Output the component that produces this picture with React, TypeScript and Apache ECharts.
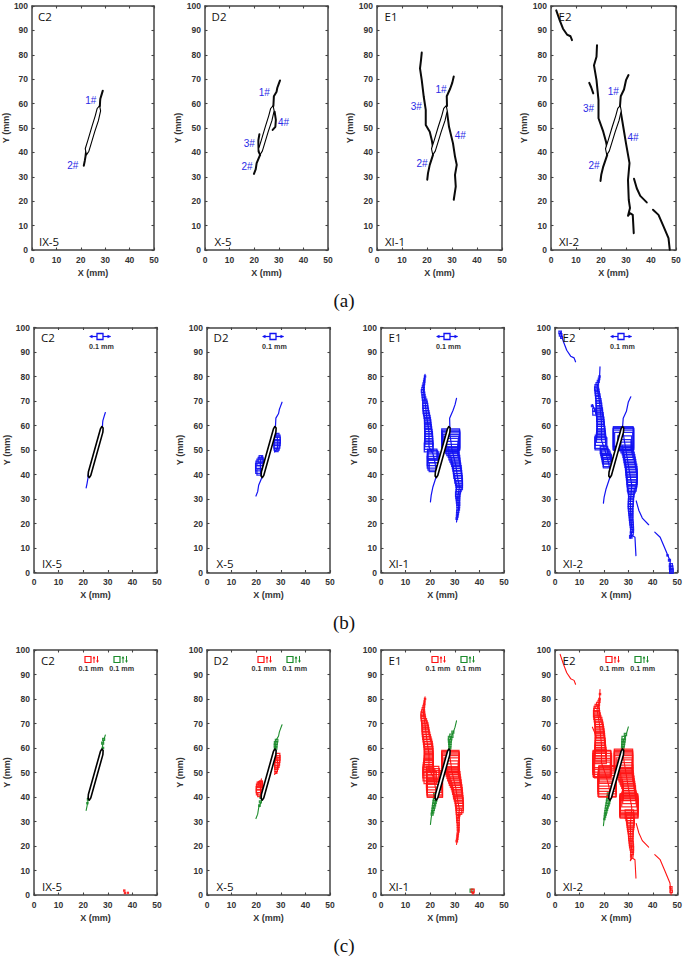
import React, { useEffect, useRef } from "react";
import * as echarts from "echarts";

type P = number[];
const xTicks = [0, 50];
const yTicks = [0, 100];

const notchLens: P[] = [[22.3,39],[21.8,41.5],[22.9,45],[24.5,50.5],[25.9,55],[26.7,58],[27.7,59.2],[28.1,57],[27.2,53],[25.7,48.5],[24.2,43.5],[23.3,40.5],[22.3,39]];
const notchCapsule: P[] = [[22,39.4],[22.1,41],[27,58.6],[27.6,59.6],[28.1,59],[28,57.3],[23.1,39.7],[22.5,38.7]];

// crack traces (mm)
const c2_1: P[] = [[27.8,59],[27.9,61],[28,62],[28.6,64],[29,65.3]];
const c2_2: P[] = [[22.3,41.7],[21.9,38.3],[21.6,36.5],[21.2,34.5]];
const d2_1: P[] = [[27.8,59],[28,63],[29.1,64.9],[29.4,66.5],[29.8,67.6],[30.5,69.5]];
const d2_2: P[] = [[22.4,39],[21,35.6],[20.6,33],[19.9,31.2]];
const d2_3: P[] = [[22.1,47.4],[21.7,45],[21.7,43.7],[21.8,40.3],[22.4,39]];
const d2_4: P[] = [[28.3,56.7],[28.8,53.3],[28.6,50.5],[27.5,49.2]];
const e1_1: P[] = [[28,59],[27.9,63],[29.3,66.2],[30.1,68.5],[30.7,71.1]];
const e1_2: P[] = [[22.4,39],[21.1,34.9],[20.4,31.5],[20.1,28.8]];
const e1_3: P[] = [[17.9,80.9],[17.6,77.8],[17.2,74.4],[17.9,69.6],[18.7,62.8],[19.5,57.4],[19.5,51.2],[21.1,48.5],[21.9,45.1],[22.4,42]];
const e1_4: P[] = [[28,56.7],[28.8,50.5],[30.4,43.7],[31.2,38.3],[31.9,34.9],[31.2,30.8],[31.5,26],[30.7,20.6]];
const e2_1: P[] = [[27.6,59],[27.9,63],[29.2,65.8],[30,69.6],[31,71.7]];
const e2_1short: P[] = [[27.6,59],[27.9,63],[29.2,65.8],[30,68.6]];
const e2_2: P[] = [[22.5,39],[20.9,34.2],[20.1,30.8],[19.8,28.3]];
const e2_3: P[] = [[18.4,83.9],[18.2,79.2],[17.2,75.7],[18.2,69.6],[19,61.4],[19,54],[20.9,48.5],[22,44.4],[22.5,41.7]];
const e2_4: P[] = [[27.9,56.7],[29,49.9],[30,43.7],[31.4,35.6],[30.8,28.7],[31.1,20.6],[31.6,17.2],[30.8,14],[31.6,15.1],[32.7,14.4],[33.1,6.9]];
const e2_top: P[] = [[2.1,98.2],[3.5,94.1],[4.8,90.7],[6.4,88.3],[7.8,87.6],[8.4,86]];
const e2_branch: P[] = [[15.3,68.5],[16.1,66.6],[16.9,64.2]];
const e2_right: P[] = [[33.2,29.2],[34.3,25.3],[35.7,22.2],[38.3,19.5]];
const e2_low: P[] = [[40.8,16.5],[43,14.4],[45,9.7],[47,4.9],[47.5,0.1]];

// [x, y, side] squares (mm)
const d2bSq: P[] = [[21.9,47,1.4],[21.8,46,2],[21.6,45,2.6],[21.4,44,3],[21.3,43,3.1],[21.3,42,3],[21.5,41,2.4],[28.5,56,1.5],[28.6,55,2.2],[28.6,54,2.4],[28.5,53,2.5],[28.4,52,2.4],[28.3,51,2.1],[28.2,50,1.4]];
const e1bSq: P[] = [[17.9,80,.5],[17.7,79,.5],[17.6,78,.6],[17.4,77,.7],[17.2,76,.8],[17.1,75,1],[17,74,1.2],[17.2,73,1.2],[17.3,72,1.2],[17.5,71,1.4],[17.8,70,1.6],[17.9,69,1.8],[18,68,2],[18.1,67,2],[18.2,66,2.2],[18.4,65,2.2],[18.6,64,2.2],[18.8,63,2.3],[18.9,62,2.4],[19,61,2.5],[19,60,2.6],[19.1,59,2.7],[19.2,58,2.8],[19.3,57,2.9],[19.4,56,3],[19.4,55,3.1],[19.4,54,3.2],[19.4,53,3.2],[19.4,52,3.4],[19.4,51,3.6],
  [20.8,48.5,3.8],[21,47.8,4],[21.3,47,4.4],[21.2,46,4.8],[21.2,45,4.8],[21.3,44,4.4],[21.4,43,3.6],
  [28.3,55,7.2],[28.4,54.5,7.2],[28.4,54,7.2],[28.5,53.5,7],[28.5,53,6.6],[28.6,52.5,6],[28.7,52,5.4],[28.8,51,5],[29,50,4.5],[29.3,49,4],[29.6,48,4],[29.9,47,3.8],[30.2,46,3.6],[30.4,45,3.4],[30.6,44,3.2],[30.8,43,3.2],[31,42,3.2],[31.1,41,3.2],[31.2,40,3.2],[31.4,39,3],[31.5,38,3],[31.7,37,2.8],[31.8,36,2.6],[31.9,35,2.4],[31.6,34,2],[31.4,33,1.8],[31.2,32,1.8],[31.2,31,1.6],[31.3,30,1.4],[31.3,29,1.3],[31.4,28,1.2],[31.4,27,1.1],[31.4,26,1],[31.2,25,.9],[31.1,24,.8],[31,23,.7],[30.8,22,.6]];
const e2bSq: P[] = [[2.1,98,1],[2.3,97,1],[2.7,96,.8],[15.2,68,.6],[16,66.5,1.2],[16.2,65,1.5],[18.2,80,.5],[18,79,.6],[17.7,78,.8],[17.3,77,1],[17,76,1.3],[17,75,1.6],[17.2,74,1.6],[17.3,73,1.7],[17.5,72,1.8],[17.6,71,1.8],[17.8,70,2],[17.8,69,2.1],[18,68,2.2],[18,67,2.2],[18.2,66,2.4],[18.2,65,2.5],[18.4,64,2.6],[18.4,63,2.7],[18.6,62,2.8],[18.6,61,2.8],[18.7,60,2.9],[18.7,59,3],[18.8,58,3.2],[18.8,57,3.3],[18.8,56,3.5],[18.8,55,3.7],[18.6,54,4.2],[18.6,53,4.6],[18.8,52.5,4.8],
  [20,50,3],[20.2,49.2,3],[20.5,48.5,3.2],[20.8,47.8,3.4],[21,47,3.4],[21.2,46.4,3.6],[21.3,46,3.6],[21.5,45,3.6],[21.6,44.5,3.6],
  [27.9,55.5,8],[28,55,8.2],[28,54.5,8.4],[28,54,8.2],[28.1,53.5,7.4],[28.5,53,5.6],[28.8,52,4.5],[29.2,51,4.4],[29.5,50,4],[29.8,49,4],[30,48,4],[30.3,47,4.2],[30.5,46,4.2],[30.7,45,4.2],[30.9,44,4.2],[31,43,4.2],[31.2,42,4.4],[31.3,41,4.4],[31.4,40,4.4],[31.5,39,4.2],[31.5,38,4.2],[31.5,37,4],[31.5,36,3.6],[31.4,35,3.6],[31.3,34,3],[31.2,33,2.4],[31.2,32,2.2],[31.1,31,2],[31.1,30,2],[31,29,2],[31,28,2],[30.9,27,1.9],[30.9,26,1.8],[31,25,1.7],[31,24,1.6],[31.1,23,1.5],[31.1,22,1.4],[31.2,21,1.4],[31.3,20,1.4],[31.4,19,1.3],[31.5,18,1.2],[31.5,17,1.2],[31.4,16,1.2],[31,14.5,1],[47.4,3,1.2],[47.5,2,1.4],[47.6,1,1.4],[47.6,.3,1.4],[46.8,5,.8],[46,7,.5]];
const c2cRed: P[] = [[36.7,1.8,.5],[37,.8,.5],[38.2,.9,.4]];
const c2cGreen: P[] = [[28,60,.6],[27.9,62,.8],[28.3,63.5,.8],[22,39,.6],[21.7,37.5,.5]];
const d2cRed: P[] = [[21.9,46,1.2],[21.7,45.5,1.6],[21.5,45,2.2],[21.3,44,2.4],[21.2,43,2.4],[21.2,42,2.2],[21.4,41,1.6],[28.8,57,1.6],[28.8,56,1.8],[28.7,55,1.8],[28.5,54,2],[28.4,53,1.8],[28.2,52,1.4],[28.1,51,1],[28,50,.8]];
const d2cGreen: P[] = [[27.9,60,1],[27.9,61,1.1],[28,62,1.2],[28.3,63,1],[22,40,1],[21.7,38,.8],[21.3,36.5,.6]];
const e1cRed: P[] = [[17.9,80,.5],[17.7,79,.5],[17.6,78,.6],[17.4,77,.7],[17.2,76,.9],[17.1,75,1.2],[17,74,1.5],[17.1,73,1.7],[17.2,72,1.8],[17.5,71,2],[17.7,70,2.2],[17.9,69,2.4],[18,68,2.6],[18.1,67,2.7],[18.2,66,2.8],[18.4,65,2.9],[18.6,64,3],[18.8,63,3.1],[19,62,3.2],[19.2,61,3.3],[19.3,60,3.4],[19.4,59,3.4],[19.4,58,3.4],[19.4,57,3.5],[19.4,56,3.6],[19.4,55,3.6],[19.3,54,3.6],[19.3,53,3.8],[19.2,52,4],[19.2,51,4.2],[19.2,50,4.4],[19.5,49,4.8],[20,48,5],[21,50,5],[21.2,49,5.2],[21.5,48,5.6],[21.5,47,6],[21.6,46,6.2],[21.7,45,6.2],[21.8,44,6.2],[21.9,43.5,6.2],[21.9,43,6.2],
  [28.2,55.5,7],[28.2,55,7],[28.3,54.5,7],[28.3,54,7],[28.4,53.5,6.8],[28.6,53,6],[28.7,52,5.4],[29,51,5],[29.2,50,4.8],[29.5,49,4.8],[29.8,48,4.6],[30,47,4.4],[30.3,46,4.2],[30.6,45,4],[30.8,44,3.8],[31,43,3.8],[31.2,42,3.6],[31.3,41,3.6],[31.5,40,3.4],[31.7,39,3.2],[31.8,38,3.2],[31.9,37,3],[32,36,3],[32,35,2.8],[31.7,34,2.2],[31.4,33,1.4],[31.3,32,1.2],[31.3,31,1.1],[31.3,30,1],[31.4,29,.9],[31.4,28,.8],[31.4,27,.8],[31.4,26,.7],[31.2,25,.6],[31.1,24,.6],[31,23,.6],[30.8,22,.6],[37.3,1.8,1.2],[37.4,.8,.6]];
const e1cGreen: P[] = [[28,60,.8],[28,61,.9],[28,62,1],[28,63,1.2],[28.1,64,1.4],[28.6,65,1.3],[29.2,66.5,.8],[22.1,41,1.4],[22.1,40,1.4],[22,39,1.4],[21.8,38,1.3],[21.6,37,1.2],[21.4,36,1.1],[21.2,35,1],[21,34,.9],[20.8,33,.8],[36.8,1.8,1.2]];
const e2cRed: P[] = [[18.4,82,.5],[18.2,80,.6],[18,79,.8],[17.6,78,1.2],[17.2,77,1.6],[17,76,2],[17,75,2.3],[17,74,2.5],[17.2,73,2.6],[17.4,72,2.7],[17.7,71,2.9],[17.9,70,3],[18,69,3.2],[18.1,68,3.3],[18.2,67,3.4],[18.3,66,3.5],[18.4,65,3.6],[18.4,64,3.7],[18.4,63,3.8],[18.5,62,4],[18.5,61,4.1],[18.5,60,4.2],[18.5,59,4.4],[18.6,58,4.5],[18.6,57,4.6],[18.6,56,4.8],[19.2,55.5,7],[19.2,55,7.4],[19.3,54,7.6],[19.3,53,7.6],[19.3,52,7.4],[19.3,51.5,7],[19.4,51,6.4],
  [21.3,49.5,6.6],[21.3,49,6.8],[21.3,48,7],[21.3,47,7.2],[21.3,46,7.4],[21.3,45,7.4],[21.3,44,7.4],[21.4,43.5,7],
  [28,55.8,7.4],[28,55.3,7.4],[28,54.8,7.4],[28,54.3,7.4],[28,53.8,7.4],[28.1,53.3,7.2],[28.3,52.7,6.6],[28.5,52,6.2],[28.6,51,6],[28.8,50,6],[29,49,5.6],[29.3,48,5.4],[29.5,47,5.2],[29.8,46,5],[30,45,4.8],[30.2,44,4.8],[30.3,43,4.8],[30.4,42,5],[30.4,41,5],[30.4,40,5.4],[30.3,39,6],[30.2,38,6.8],[30.2,37.5,7.3],[30.2,37,7.3],[30.2,36.5,7.3],[30.2,36,7.3],[30.2,35.5,7.4],[30.3,35,7.2],[30.4,33,3.4],[30.6,32,3.2],[30.8,31,3.1],[30.9,30,3],[30.9,29,2.8],[30.9,28,2.6],[30.9,27,2.3],[30.9,26,2],[31,25,1.9],[31,24,1.8],[31,23,1.7],[31.1,22,1.6],[31.2,21,1.6],[31.3,20,1.6],[31.4,19,1.4],[31.5,18,1.2],[31.5,17,1.1],[31.4,16,1],[47.4,3,.9],[47.5,1.5,1]];
const e2cGreen: P[] = [[27.7,60,1],[27.8,61,1.1],[27.9,62,1.2],[28,63,1.3],[28.1,64,1.4],[28.8,65.5,.9],[22.1,41,1.4],[22,40,1.4],[21.9,39,1.4],[21.7,38,1.4],[21.5,37,1.3],[21.2,36,1.1],[21,35,1],[20.8,34,.9],[20.6,33,.8],[20.4,32,.6],[20.2,31,.5]];

const panelNames = ["C2", "D2", "E1", "E2"];
const specimenNames = ["IX-5", "X-5", "XI-1", "XI-2"];
const crackSets: { g: P[][]; r: P[][] }[] = [
  { g: [c2_1, c2_2], r: [] },
  { g: [d2_1, d2_2], r: [d2_3, d2_4] },
  { g: [e1_1, e1_2], r: [e1_3, e1_4] },
  { g: [e2_1, e2_2], r: [e2_3, e2_4, e2_top, e2_branch, e2_right, e2_low] },
];
const crackLabels: [string, number, number][][] = [
  [["1#",24.3,61.3],["2#",17,34.7]],
  [["1#",24.1,64.6],["2#",17.1,34.3],["3#",18,43.7],["4#",31.9,52.2]],
  [["1#",25.6,65.8],["2#",18,35.4],["3#",15.7,58.9],["4#",33.3,47]],
  [["1#",24.9,64.9],["2#",17.2,34.5],["3#",15,58],["4#",32.8,46]],
];
const blueSquares: P[][] = [[], d2bSq, e1bSq, e2bSq];
const redSquares: P[][] = [c2cRed, d2cRed, e1cRed, e2cRed];
const greenSquares: P[][] = [c2cGreen, d2cGreen, e1cGreen, e2cGreen];
const captions = ["(a)", "(b)", "(c)"];
const legendText = "0.1 mm";

const W = 685, H = 958;
const rows = [
  { t: 6, h: 244, lefts: [31, 205, 377, 551], w: [123, 123, 125, 125] },
  { t: 327.5, h: 245, lefts: [34, 207, 381, 555], w: [123, 123, 123, 123] },
  { t: 650, h: 245, lefts: [34, 207, 381, 555], w: [123, 123, 123, 123] },
];
const captionY = [300, 622, 945];
const BLUE = "#1212f2", RED = "#ff1414", GREEN = "#1c8c2c", AX = "#444444", LABELBLUE = "#2a2ae6";
const SANS = '"Liberation Sans", Arial, sans-serif';

function txt(text: string, x: number, y: number, font: string, fill: string, z = 30) {
  return { type: "text", x, y, z, silent: true, style: { text, font, fill, align: "center", verticalAlign: "middle", textAlign: "center", textVerticalAlign: "middle" } };
}
function seg(x1: number, y1: number, x2: number, y2: number, color: string, lw = 1) {
  return { type: "line", z: 30, silent: true, shape: { x1, y1, x2, y2 }, style: { stroke: color, lineWidth: lw } };
}
function tri(pts: number[][], color: string) {
  return { type: "polygon", z: 30, silent: true, shape: { points: pts }, style: { fill: color } };
}

function buildOption() {
  const grid: any[] = [], xAxis: any[] = [], yAxis: any[] = [], series: any[] = [], graphic: any[] = [];
  let g = 0;
  rows.forEach((row, r) => {
    row.lefts.forEach((left, p) => {
      const w = row.w[p];
      const scale = w / 50;
      grid.push({ left, top: row.t, width: w, height: row.h, show: false });
      const line = { show: true, onZero: false, lineStyle: { color: AX, width: 1.5 } };
      const tick = { show: true, inside: true, length: 2.5, lineStyle: { color: AX, width: 1.1 } };
      const lab = { color: "#333333", fontSize: 8.5, fontWeight: "bold", fontFamily: SANS };
      const nameStyle = { color: "#333333", fontSize: 9, fontWeight: "bold", fontFamily: SANS };
      const xa = { type: "value", gridIndex: g, min: xTicks[0], max: xTicks[1], interval: 10, axisLine: line, axisTick: tick, splitLine: { show: false } };
      const ya = { type: "value", gridIndex: g, min: yTicks[0], max: yTicks[1], interval: 10, axisLine: line, axisTick: tick, splitLine: { show: false } };
      xAxis.push({ ...xa, position: "bottom", name: "X (mm)", nameLocation: "middle", nameGap: 18, nameTextStyle: nameStyle, axisLabel: { ...lab, margin: 5 } });
      xAxis.push({ ...xa, position: "top", axisLabel: { show: false } });
      yAxis.push({ ...ya, position: "left", name: "Y (mm)", nameLocation: "middle", nameGap: 18, nameRotate: 90, nameTextStyle: nameStyle, axisLabel: { ...lab, margin: 4 } });
      yAxis.push({ ...ya, position: "right", axisLabel: { show: false } });
      const xi = g * 2, yi = g * 2;
      const cs = crackSets[p];
      const lineS = (data: P[], color: string, width: number, z = 3) => ({
        type: "line", xAxisIndex: xi, yAxisIndex: yi, data, showSymbol: false, symbol: "none", z,
        lineStyle: { color, width, cap: "round", join: "round" }, silent: true,
      });
      const sqS = (data: P[], color: string, z = 4) => ({
        type: "scatter", xAxisIndex: xi, yAxisIndex: yi, data, symbol: "rect", z, silent: true,
        symbolSize: (v: number[]) => v[2] * scale,
        itemStyle: { color: "rgba(0,0,0,0)", borderColor: color, borderWidth: 1.25, opacity: 0.9 },
      });
      if (r === 0) {
        [...cs.g, ...cs.r].forEach((d) => series.push(lineS(d, "#0a0a0a", 2)));
      } else if (r === 1) {
        [...cs.g, ...cs.r].forEach((d) => series.push(lineS(d, BLUE, 1.2)));
        if (blueSquares[p].length) series.push(sqS(blueSquares[p], BLUE));
      } else {
        const greens = p === 3 ? [e2_1short, e2_2] : cs.g;
        greens.forEach((d) => series.push(lineS(d, GREEN, 1.1)));
        cs.r.forEach((d) => series.push(lineS(d, RED, 1.1)));
        series.push(sqS(greenSquares[p], GREEN));
        series.push(sqS(redSquares[p], RED));
      }
      const notch = r === 0 ? notchLens : notchCapsule;
      series.push({
        type: "custom", xAxisIndex: xi, yAxisIndex: yi, data: notch, z: 6, silent: true,
        encode: { x: 0, y: 1 },
        renderItem: (params: any, api: any) => {
          if (params.dataIndex !== 0) return null;
          return { type: "polygon", shape: { points: notch.map((q) => api.coord(q)) },
            style: { fill: "#ffffff", stroke: "#000000", lineWidth: r === 0 ? 1.1 : 1.6, lineJoin: "round" } };
        },
      });

      // panel texts
      const nameFont = '500 11.5px "Open Sans", sans-serif';
      graphic.push(txt(panelNames[p], left + 14, row.t + 10, nameFont, "#111111"));
      graphic.push(txt(specimenNames[p], left + 18, row.t + row.h - 9, nameFont, "#111111"));
      if (r === 0) {
        crackLabels[p].forEach(([t, x, y]) => {
          graphic.push(txt(t, left + x * scale, row.t + row.h - (y / 100) * row.h, `10px ${SANS}`, LABELBLUE));
        });
      } else if (r === 1) {
        const cy = row.t + 9, cx = left + 66;
        graphic.push(seg(cx - 10, cy, cx + 10.5, cy, BLUE, 1.2));
        graphic.push(tri([[cx - 11, cy], [cx - 7.5, cy - 1.8], [cx - 7.5, cy + 1.8]], BLUE));
        graphic.push(tri([[cx + 11, cy], [cx + 7.5, cy - 1.8], [cx + 7.5, cy + 1.8]], BLUE));
        graphic.push({ type: "rect", z: 31, silent: true, shape: { x: cx - 3, y: cy - 3, width: 6, height: 6 }, style: { fill: "#fff", stroke: BLUE, lineWidth: 1.3 } });
        graphic.push(txt(legendText, cx + 1.5, row.t + 18.5, `bold 7.2px ${SANS}`, "#333333"));
      } else {
        [[54, RED, 0], [83, GREEN, 1]].forEach(([dx, col, k]: any) => {
          const cx = left + dx, cy = row.t + 9.5;
          graphic.push({ type: "rect", z: 31, silent: true, shape: { x: cx - 3, y: cy - 3, width: 6, height: 6 }, style: { fill: "#fff", stroke: col, lineWidth: 1.2 } });
          const a1 = cx + 6, a2 = cx + 9.5;
          graphic.push(seg(a1, cy - 2.5, a1, cy + 3.5, col, 1));
          graphic.push(seg(a2, cy - 3.5, a2, cy + 2.5, col, 1));
          graphic.push(tri([[a1, cy - 3.5], [a1 - 1.4, cy - 1], [a1 + 1.4, cy - 1]], col));
          graphic.push(tri([[a2, cy + 3.5], [a2 - 1.4, cy + 1], [a2 + 1.4, cy + 1]], col));
          graphic.push(txt(legendText, cx + (k ? 4.7 : 3), row.t + 18, `bold 7.2px ${SANS}`, "#333333"));
        });
      }
      g++;
    });
    graphic.push(txt(captions[r], 344, captionY[r], '19px "Liberation Serif", serif', "#111111"));
  });
  return { animation: false, backgroundColor: "#ffffff", grid, xAxis, yAxis, series, graphic };
}

export default function App() {
  const ref = useRef<HTMLDivElement>(null);
  useEffect(() => {
    const chart = echarts.init(ref.current!, undefined, { renderer: "svg" });
    chart.setOption(buildOption() as any);
    return () => chart.dispose();
  }, []);
  return <div ref={ref} style={{ position: "absolute", left: 0, top: 0, width: W, height: H }} />;
}
